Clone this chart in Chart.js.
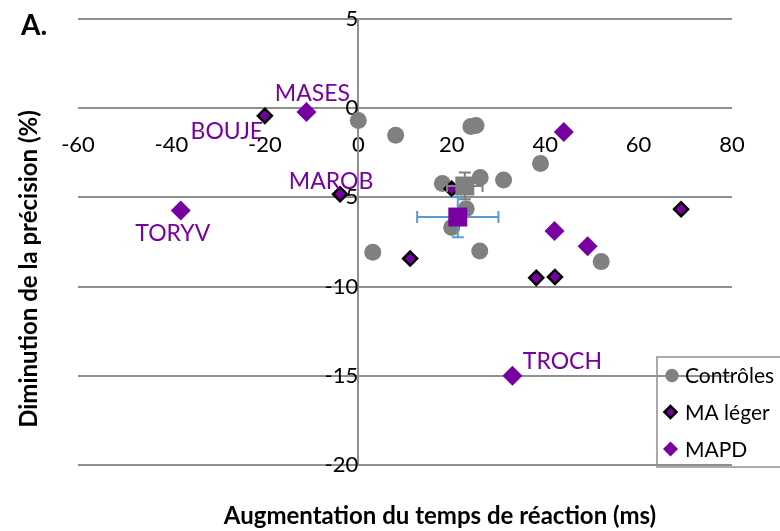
<!DOCTYPE html>
<html>
<head>
<meta charset="utf-8">
<script src="https://cdn.jsdelivr.net/npm/chart.js@4/dist/chart.umd.min.js"></script>
<style>
  html, body { margin: 0; padding: 0; background: #ffffff; }
  #wrap { width: 780px; height: 531px; }
</style>
</head>
<body>
<div id="wrap"><canvas id="c" width="780" height="531"></canvas></div>
<script>
// Contrôles
const controlsX = [0.0, 8.0, 24.1, 25.2, 39.0, 18.0, 26.1, 31.1, 23.1, 20.0, 26.0, 52.0, 3.1];
const controlsY = [-0.69, -1.51, -1.03, -0.97, -3.10, -4.22, -3.89, -4.02, -5.64, -6.69, -8.00, -8.60, -8.08];

// MA léger
const mildX = [-20.0, -3.9, 20.0, 11.1, 38.1, 42.1, 69.1];
const mildY = [-0.43, -4.82, -4.52, -8.43, -9.51, -9.46, -5.66];
const mildNames = ['BOUJE', 'MAROB', '', '', '', '', ''];

// MAPD
const mapdX = [-11.1, -38.0, 44.0, 42.0, 49.1, 33.0];
const mapdY = [-0.22, -5.74, -1.34, -6.88, -7.74, -15.0];
const mapdNames = ['MASES', 'TORYV', '', '', '', 'TROCH'];

// Group means (x, y) and their error half-widths (x, y)
const controlMean = [22.8, -4.36];
const controlErr = [3.8, 0.75];
const patientMean = [21.3, -6.10];
const patientErr = [8.7, 1.13];

// Axis ranges and tick steps
const xRange = [-60, 80];
const xStep = 20;
const yRange = [-20, 5];
const yStep = 5;

const seriesNames = ['Contrôles', 'MA léger', 'MAPD'];
const xTitle = 'Augmentation du temps de réaction (ms)';
const yTitle = 'Diminution de la précision (%)';
const panelLetter = 'A.';

const PURPLE = '#7800a2';
const GRAY = '#808080';
const GRID = '#8f8f8f';
const BLUE = '#5b9bd5';
const FONT = 'Lato, "Open Sans", sans-serif';

// Where each name tag sits relative to its marker
const nameOffsets = {
  MASES: [6, -19], BOUJE: [-38, 16], MAROB: [-9, -13], TORYV: [-8, 23], TROCH: [50, -14]
};

const toPoints = (xs, ys) => xs.map((x, i) => ({ x, y: ys[i] }));

const errorBars = {
  id: 'errorBars',
  beforeDatasetDraw(chart, args) {
    const ds = chart.data.datasets[args.index];
    if (!ds.err) return;
    const { ctx, scales: { x: sx, y: sy } } = chart;
    const p = ds.data[0];
    const cx = sx.getPixelForValue(p.x), cy = sy.getPixelForValue(p.y);
    const x0 = sx.getPixelForValue(p.x - ds.err[0]), x1 = sx.getPixelForValue(p.x + ds.err[0]);
    const y0 = sy.getPixelForValue(p.y + ds.err[1]), y1 = sy.getPixelForValue(p.y - ds.err[1]);
    const cap = 6;
    ctx.save();
    ctx.strokeStyle = ds.errColor;
    ctx.lineWidth = 2;
    ctx.beginPath();
    ctx.moveTo(x0, cy); ctx.lineTo(x1, cy);
    ctx.moveTo(x0, cy - cap); ctx.lineTo(x0, cy + cap);
    ctx.moveTo(x1, cy - cap); ctx.lineTo(x1, cy + cap);
    ctx.moveTo(cx, y0); ctx.lineTo(cx, y1);
    ctx.moveTo(cx - cap, y0); ctx.lineTo(cx + cap, y0);
    ctx.moveTo(cx - cap, y1); ctx.lineTo(cx + cap, y1);
    ctx.stroke();
    ctx.restore();
  }
};

const nameTags = {
  id: 'nameTags',
  afterDatasetsDraw(chart) {
    const { ctx, scales: { x: sx, y: sy } } = chart;
    ctx.save();
    ctx.font = '23px ' + FONT;
    ctx.fillStyle = PURPLE;
    ctx.textAlign = 'center';
    ctx.textBaseline = 'middle';
    chart.data.datasets.forEach(ds => {
      if (!ds.names) return;
      ds.names.forEach((n, i) => {
        if (!n) return;
        const off = nameOffsets[n] || [0, -18];
        ctx.fillText(n, sx.getPixelForValue(ds.data[i].x) + off[0], sy.getPixelForValue(ds.data[i].y) + off[1]);
      });
    });
    ctx.restore();
  }
};

function diamond(ctx, x, y, r) {
  ctx.beginPath();
  ctx.moveTo(x - r, y); ctx.lineTo(x, y - r); ctx.lineTo(x + r, y); ctx.lineTo(x, y + r);
  ctx.closePath();
}

const frameText = {
  id: 'frameText',
  afterDraw(chart) {
    const ctx = chart.ctx;
    ctx.save();
    ctx.fillStyle = '#000';
    // panel letter
    ctx.font = 'bold 28px ' + FONT;
    ctx.textAlign = 'left';
    ctx.textBaseline = 'alphabetic';
    ctx.fillText(panelLetter, 21, 35);
    // x title
    ctx.font = 'bold 24px ' + FONT;
    ctx.textAlign = 'center';
    ctx.fillText(xTitle, 440, 524);
    // y title
    ctx.save();
    ctx.translate(37, 269);
    ctx.rotate(-Math.PI / 2);
    ctx.fillText(yTitle, 0, 0);
    ctx.restore();

    // legend
    const lx = 657, ly = 357;
    ctx.strokeStyle = GRID;
    ctx.lineWidth = 1.5;
    ctx.strokeRect(lx, ly, 140, 110);
    ctx.font = '21px ' + FONT;
    ctx.textAlign = 'left';
    ctx.textBaseline = 'middle';
    const rows = [375.5, 412, 449];
    // Contrôles
    ctx.fillStyle = GRAY;
    ctx.beginPath(); ctx.arc(672, rows[0], 6.7, 0, Math.PI * 2); ctx.fill();
    // MA léger
    diamond(ctx, 670.5, rows[1], 6);
    ctx.fillStyle = PURPLE; ctx.fill();
    ctx.strokeStyle = '#000'; ctx.lineWidth = 2.5; ctx.stroke();
    // MAPD
    diamond(ctx, 670.5, rows[2], 7.5);
    ctx.fillStyle = PURPLE; ctx.fill();
    ctx.fillStyle = '#000';
    seriesNames.forEach((n, i) => ctx.fillText(n, 685, rows[i] + 1));
    ctx.restore();
  }
};

new Chart(document.getElementById('c'), {
  type: 'scatter',
  data: {
    datasets: [
      {
        label: seriesNames[0], data: toPoints(controlsX, controlsY), order: 5,
        pointStyle: 'circle', radius: 8.5, backgroundColor: GRAY, borderWidth: 0
      },
      {
        label: seriesNames[1], data: toPoints(mildX, mildY), names: mildNames, order: 4,
        pointStyle: 'rectRot', radius: 7, backgroundColor: PURPLE, borderColor: '#000', borderWidth: 2.5
      },
      {
        label: seriesNames[2], data: toPoints(mapdX, mapdY), names: mapdNames, order: 3,
        pointStyle: 'rectRot', radius: 10, backgroundColor: PURPLE, borderWidth: 0
      },
      {
        label: 'Moyenne contrôles', data: [{ x: controlMean[0], y: controlMean[1] }], order: 2,
        err: controlErr, errColor: GRAY,
        pointStyle: 'rect', radius: 13.4, backgroundColor: GRAY, borderWidth: 0
      },
      {
        label: 'Moyenne patients', data: [{ x: patientMean[0], y: patientMean[1] }], order: 1,
        err: patientErr, errColor: BLUE,
        pointStyle: 'rect', radius: 13.4, backgroundColor: PURPLE, borderWidth: 0
      }
    ]
  },
  options: {
    responsive: false,
    animation: false,
    events: [],
    layout: { padding: { left: 78, right: 48, top: 19, bottom: 66 } },
    plugins: { legend: { display: false }, tooltip: { enabled: false } },
    scales: {
      x: {
        type: 'linear', min: xRange[0], max: xRange[1],
        position: { y: 0 },
        grid: { display: false },
        border: { display: false },
        ticks: { stepSize: xStep, padding: 16, color: '#000', font: { family: FONT, size: 22 } }
      },
      y: {
        type: 'linear', min: yRange[0], max: yRange[1],
        position: { x: 0 },
        // invisible tick marks keep the labels clear of the axis line
        grid: { color: GRID, lineWidth: 2, drawTicks: true, tickLength: 24, tickColor: 'rgba(0,0,0,0)' },
        border: { display: true, color: GRID, width: 2 },
        ticks: { stepSize: yStep, padding: 0, color: '#000', font: { family: FONT, size: 22 } }
      }
    }
  },
  plugins: [errorBars, nameTags, frameText]
});
</script>
</body>
</html>
